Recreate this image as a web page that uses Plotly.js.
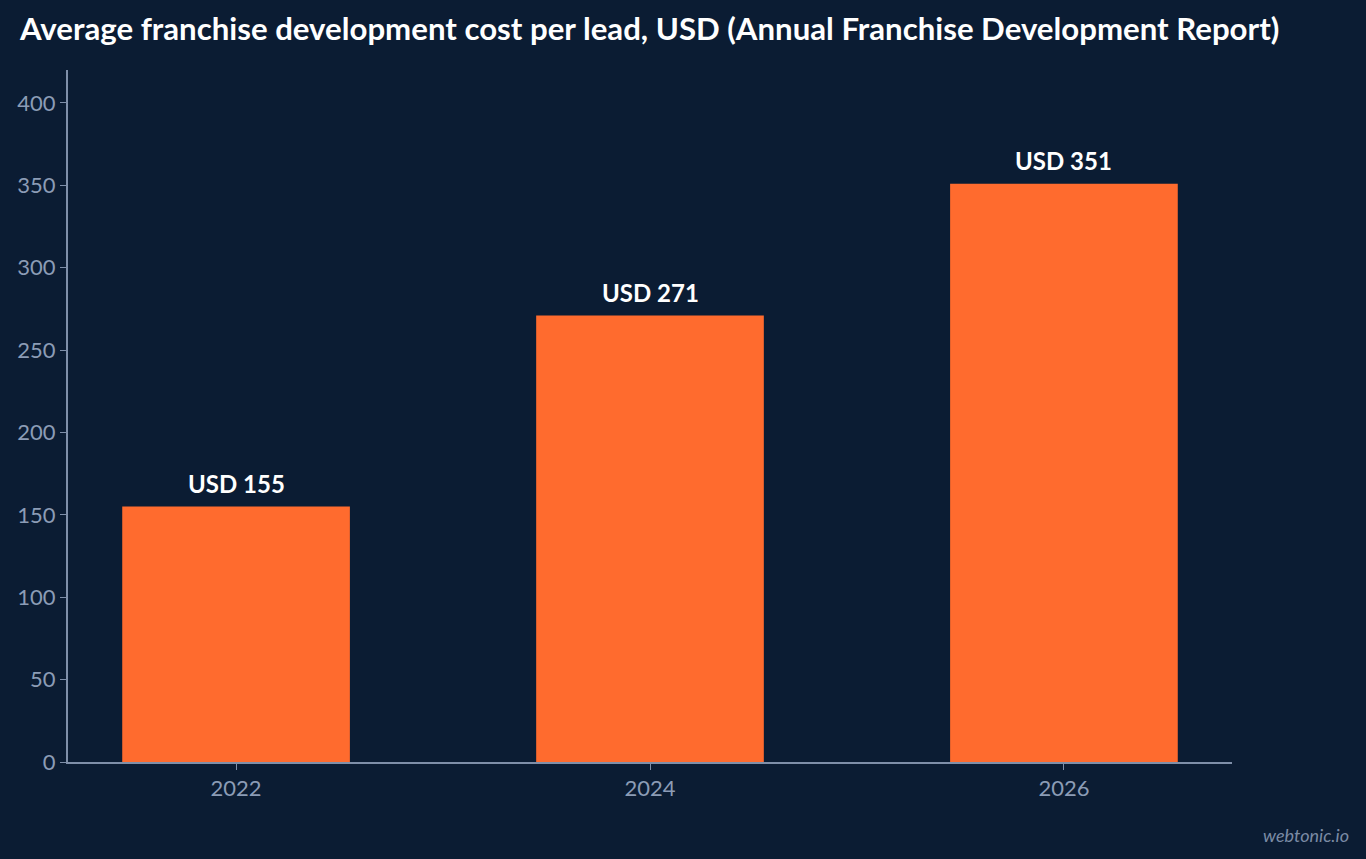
<!DOCTYPE html>
<html>
<head>
<meta charset="utf-8">
<script src="https://cdn.plot.ly/plotly-3.0.1.min.js"></script>
<style>
  html, body { margin: 0; padding: 0; background: #0b1c33; }
  #chart { width: 1366px; height: 859px; }
</style>
</head>
<body>
<div id="chart"></div>
<script>
// Valores
const years = ['2022', '2024', '2026'];
const costPerLead = [155, 271, 351];
const yTicks = [0, 50, 100, 150, 200, 250, 300, 350, 400];

const bg = '#0b1c33';
const axisColor = '#7f8fa9';
const tickColor = '#8c9cb6';

const data = [{
  type: 'bar',
  x: years,
  y: costPerLead,
  width: 0.55,
  marker: { color: '#ff6b2e' },
  hoverinfo: 'skip'
}];

// Rótulos acima das barras (x pelo índice da categoria, pois '2022' parece número)
const barLabels = years.map((yr, i) => ({
  x: i,
  y: costPerLead[i],
  xref: 'x', yref: 'y',
  text: '<b>USD ' + costPerLead[i] + '</b>',
  showarrow: false,
  xanchor: 'center', yanchor: 'bottom',
  yshift: 7,
  font: { family: 'Lato, sans-serif', size: 24, color: '#ffffff' }
}));

const layout = {
  width: 1366,
  height: 859,
  paper_bgcolor: bg,
  plot_bgcolor: bg,
  font: { family: 'Lato, sans-serif', color: tickColor },
  margin: { l: 68, r: 134, t: 70, b: 97 },
  showlegend: false,
  title: {
    text: '<b>Average franchise development cost per lead, USD (Annual Franchise Development Report)</b>',
    x: 20 / 1366, xanchor: 'left', xref: 'container',
    y: 0.966, yanchor: 'middle',
    font: { family: 'Lato, sans-serif', size: 31.2, color: '#ffffff' }
  },
  xaxis: {
    type: 'category',
    range: [-0.406, 2.406],
    showgrid: false,
    showline: true,
    linecolor: axisColor,
    linewidth: 2,
    ticks: 'outside',
    ticklen: 6,
    tickcolor: axisColor,
    tickfont: { size: 22, color: tickColor },
    zeroline: false
  },
  yaxis: {
    range: [0, 420],
    tickvals: yTicks,
    showgrid: false,
    showline: true,
    linecolor: axisColor,
    linewidth: 2,
    ticks: 'outside',
    ticklen: 6,
    tickcolor: axisColor,
    tickfont: { size: 22, color: tickColor },
    zeroline: false
  },
  annotations: barLabels.concat([{
    text: '<i>webtonic.io</i>',
    xref: 'paper', yref: 'paper',
    x: 1.102, y: -0.105,
    xanchor: 'right', yanchor: 'middle',
    showarrow: false,
    font: { family: 'Lato, sans-serif', size: 18, color: '#7b8ba5' }
  }])
};

Plotly.newPlot('chart', data, layout, { displayModeBar: false, staticPlot: true });
</script>
</body>
</html>
